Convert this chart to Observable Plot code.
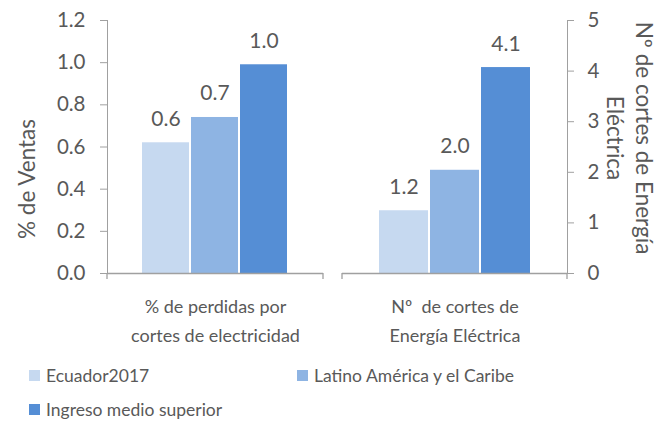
<!DOCTYPE html>
<html><head><meta charset="utf-8">
<script src="https://cdn.jsdelivr.net/npm/d3@7"></script>
<script src="https://cdn.jsdelivr.net/npm/@observablehq/plot@0.6"></script>
<style>
body{margin:0;background:#fff;font-family:Lato, sans-serif;color:#595959}
#row{display:flex;width:664px;height:345px}
#legend{display:grid;grid-template-columns:268px 300px;padding-left:29px;padding-top:13px;font-size:17.5px;color:#595959}
.item{display:flex;align-items:center;height:34px;white-space:nowrap}
.sw{width:11px;height:11px;margin-right:6px;flex:none}
</style></head><body>
<div id="row"></div>
<div id="legend"></div>
<script>
const categories = ["% de perdidas por\ncortes de electricidad", "Nº  de cortes de\nEnergía Eléctrica"];
const series = ["Ecuador2017", "Latino América y el Caribe", "Ingreso medio superior"];
const perdidas = [0.62, 0.74, 0.99];
const cortes = [1.24, 2.04, 4.07];
const colors = ["#c6d9f0", "#8eb4e3", "#558ed5"];
const leftTicks = [0, 0.2, 0.4, 0.6, 0.8, 1.0, 1.2];
const rightTicks = [0, 1, 2, 3, 4, 5];
const yLabels = ["% de Ventas", "Nº de cortes de Energía\nEléctrica"];

const textColor = "#595959";
const lineColor = "#a0a0a0";
const fmt1 = d3.format(".1f");

function chart(values, cat, opts) {
  const data = series.map((s, i) => ({serie: s, value: values[i]}));
  const svg = Plot.plot({
    width: opts.width, height: 345,
    marginLeft: opts.marginLeft, marginRight: opts.marginRight, marginTop: 20, marginBottom: 72,
    style: {fontFamily: "Lato, sans-serif", fontSize: "20.5px", color: lineColor, background: "white", overflow: "visible"},
    x: {domain: series, axis: null, paddingInner: 0.04, paddingOuter: 0.72},
    y: {domain: opts.domain, ticks: opts.ticks, tickFormat: opts.tickFormat, axis: opts.anchor,
        tickSize: opts.tickSize, tickPadding: opts.tickPadding, line: true, label: null},
    color: {domain: series, range: colors},
    marks: [
      Plot.barY(data, {x: "serie", y: "value", fill: "serie"}),
      Plot.text(data, {x: "serie", y: "value", text: d => fmt1(d.value), dy: -17, lineAnchor: "bottom", fontSize: 21, fill: textColor}),
      Plot.ruleY([0], {stroke: lineColor, strokeWidth: 1.3}),
      Plot.text([cat], {frameAnchor: "bottom", text: d => d, lineAnchor: "top", dy: 19, lineHeight: 1.6, fontSize: 18, fill: textColor}),
      Plot.text([opts.ylabel], {frameAnchor: opts.anchor, textAnchor: "middle", text: d => d, rotate: opts.rotate,
        dx: opts.ldx, dy: opts.ldy, lineHeight: 1.29, fontSize: 22.5, fill: textColor})
    ]
  });
  d3.select(svg).selectAll("g[aria-label^='y-axis tick label'] text").attr("fill", textColor);
  // category-axis end ticks, placed from the library's own scales
  const xr = svg.scale("x").range, y0 = svg.scale("y").apply(0);
  const g = d3.select(svg).append("g").attr("stroke", lineColor).attr("stroke-width", 1.3);
  xr.forEach(x => g.append("line").attr("x1", x).attr("x2", x).attr("y1", y0).attr("y2", y0 + 6));
  return svg;
}

const row = document.getElementById("row");
row.append(chart(perdidas, categories[0], {
  width: 333, marginLeft: 107, marginRight: 10, domain: [0, 1.2], ticks: leftTicks, tickFormat: fmt1,
  anchor: "left", tickSize: 7, tickPadding: 15, ylabel: yLabels[0], rotate: -90, ldx: -82, ldy: 32
}));
row.append(chart(cortes, categories[1], {
  width: 331, marginLeft: 9, marginRight: 97, domain: [0, 5], ticks: rightTicks, tickFormat: d3.format("d"),
  anchor: "right", tickSize: 6, tickPadding: 14, ylabel: yLabels[1], rotate: 90, ldx: 63, ldy: -9
}));

const legend = document.getElementById("legend");
series.forEach((s, i) => {
  const it = document.createElement("div");
  it.className = "item";
  const sw = document.createElement("span");
  sw.className = "sw"; sw.style.background = colors[i];
  it.append(sw, document.createTextNode(s));
  legend.append(it);
});
</script>
</body></html>
